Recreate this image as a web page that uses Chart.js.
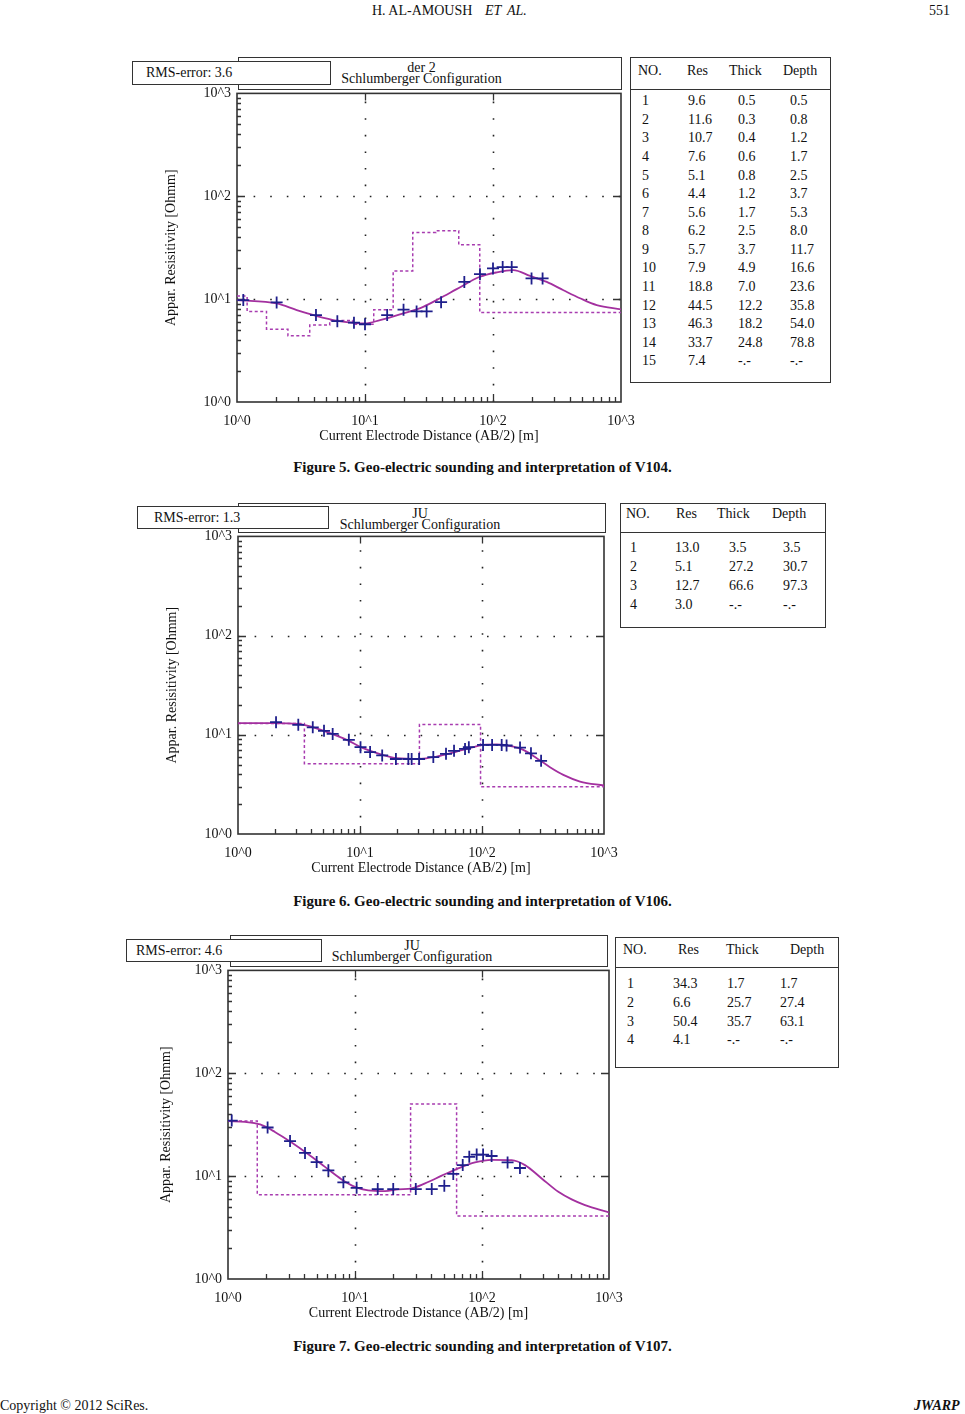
<!DOCTYPE html>
<html>
<head>
<meta charset="utf-8">
<script src="https://cdn.jsdelivr.net/npm/chart.js@4.4.0/dist/chart.umd.min.js"></script>
<style>
  body { margin: 0; background: #fff; }
  #page { position: relative; width: 965px; height: 1414px; overflow: hidden;
          font-family: "Liberation Serif", "Times New Roman", serif; color: #111; }
  canvas { position: absolute; }
</style>
</head>
<body>
<div id="page"></div>
<script>
// axis range and tick labels (log-log, AB/2 vs apparent resistivity)
const X_MIN = 1, X_MAX = 1000;
const decades = [1, 10, 100, 1000];
const decadeLabels = ['10^0', '10^1', '10^2', '10^3'];

// Figure 5 - V104
const v104Rms = '3.6';
const v104Res = [9.6, 11.6, 10.7, 7.6, 5.1, 4.4, 5.6, 6.2, 5.7, 7.9, 18.8, 44.5, 46.3, 33.7, 7.4];
const v104Thick = [0.5, 0.3, 0.4, 0.6, 0.8, 1.2, 1.7, 2.5, 3.7, 4.9, 7.0, 12.2, 18.2, 24.8];
const v104Depth = [0.5, 0.8, 1.2, 1.7, 2.5, 3.7, 5.3, 8.0, 11.7, 16.6, 23.6, 35.8, 54.0, 78.8];
const v104ObsAB = [1.12, 2.04, 4.14, 6.08, 8.2, 10, 14.9, 20, 25.3, 30.3, 39.3, 59.7, 79.1, 100, 119, 140, 200, 244];
const v104ObsRho = [9.8, 9.3, 7.0, 6.1, 5.9, 5.7, 7.0, 7.9, 7.6, 7.6, 9.35, 14.7, 17.5, 19.9, 20.5, 20.5, 15.9, 15.9];
const v104CalcAB = [1, 2.04, 2.93, 4.14, 6.08, 8.2, 10, 13.1, 19.9, 28.5, 38.5, 52, 79, 107, 144, 195, 263, 355, 478, 646, 1000];
const v104CalcRho = [9.78, 9.08, 7.82, 6.89, 6.16, 5.89, 5.81, 6.25, 7.26, 8.42, 10.2, 12.5, 16.5, 18.2, 19.1, 16.8, 14.7, 12.2, 10.2, 8.74, 7.94];

// Figure 6 - V106
const v106Rms = '1.3';
const v106Res = [13.0, 5.1, 12.7, 3.0];
const v106Thick = [3.5, 27.2, 66.6];
const v106Depth = [3.5, 30.7, 97.3];
const v106ObsAB = [2.05, 3.12, 4.1, 5.07, 5.97, 8.1, 10.1, 12.1, 15.2, 19.7, 24.9, 26.5, 30.5, 39.9, 50.7, 59, 72.6, 78, 102, 121, 145, 159, 205, 252, 305];
const v106ObsRho = [13.4, 12.6, 11.9, 10.97, 10.2, 8.9, 7.5, 6.7, 6.2, 5.7, 5.7, 5.7, 5.7, 5.96, 6.43, 6.9, 7.2, 7.5, 7.9, 7.9, 7.9, 7.8, 7.44, 6.5, 5.46];
const v106CalcAB = [1, 1.95, 3.12, 4.14, 5.68, 7.78, 10.6, 14.6, 20, 31, 42.5, 62, 85, 102, 132, 181, 218, 281, 361, 464, 636, 1000];
const v106CalcRho = [13.1, 13.1, 12.9, 11.9, 10.4, 8.9, 7.33, 6.38, 5.81, 5.72, 6.04, 6.78, 7.5, 7.9, 7.98, 7.6, 7.05, 5.81, 4.71, 3.94, 3.38, 3.08];

// Figure 7 - V107
const v107Rms = '4.6';
const v107Res = [34.3, 6.6, 50.4, 4.1];
const v107Thick = [1.7, 25.7, 35.7];
const v107Depth = [1.7, 27.4, 63.1];
const v107ObsAB = [1.07, 2.05, 3.08, 4.04, 4.99, 6.17, 8.1, 10.3, 15.1, 20, 30.1, 40.2, 50.5, 59.4, 70.5, 79.4, 90.8, 102, 119, 159, 199];
const v107ObsRho = [34.7, 29.7, 21.9, 16.8, 13.7, 11.4, 8.7, 7.7, 7.48, 7.48, 7.48, 7.48, 8.05, 10.5, 12.8, 15.4, 16.2, 16.2, 15.7, 13.6, 12.0];
const v107CalcAB = [1, 1.36, 1.79, 2.34, 3.17, 4.29, 5.8, 7.85, 10, 12.7, 17.2, 21.9, 27.9, 35.6, 48.2, 65, 88, 119, 171, 218, 295, 399, 508, 647, 1000];
const v107CalcRho = [34.2, 33.7, 31.8, 26.9, 21.2, 16.3, 12.3, 9.29, 7.87, 7.26, 7.15, 7.43, 7.6, 8.5, 10.1, 11.9, 13.6, 14.4, 14.3, 12.8, 9.5, 7.04, 5.94, 5.23, 4.44];

const page = document.getElementById('page');
const PAD_T = 14, PAD_R = 26, Y_AXIS_W = 80, X_AXIS_H = 50;

function el(css, text) {
    const d = document.createElement('div');
    d.style.cssText = 'position:absolute;white-space:nowrap;' + css;
    if (text != null) d.textContent = text;
    page.appendChild(d);
    return d;
}

// text centred vertically on cy
function txt(x, cy, text, size, extra) {
    return el(`left:${x}px;top:${cy - size * 0.62}px;font-size:${size}px;line-height:${size * 1.2}px;` + (extra || ''), text);
}

function box(l, t, w, h, z) {
    return el(`left:${l}px;top:${t}px;width:${w}px;height:${h}px;border:1.5px solid #333;box-sizing:border-box;background:#fff;z-index:${z || 1};`);
}

// layer table (NO. Res Thick Depth)
function layerTable(g, res, thick, depth) {
    box(g.left, g.top, g.width, g.height);
    el(`left:${g.left}px;top:${g.lineY}px;width:${g.width}px;height:0;border-top:1.5px solid #333;z-index:2;`);
    ['NO.', 'Res', 'Thick', 'Depth'].forEach((h, i) => txt(g.left + g.head[i], g.headY, h, 14, 'z-index:2;'));
    res.forEach((r, i) => {
        const cy = g.rowY + i * g.rowStep;
        const cells = [String(i + 1), r.toFixed(1),
                       i < thick.length ? thick[i].toFixed(1) : '-.-',
                       i < depth.length ? depth[i].toFixed(1) : '-.-'];
        cells.forEach((c, k) => txt(g.left + g.cell[k], cy, c, 14, 'z-index:2;'));
    });
}

// title + RMS boxes above each plot
function headerBoxes(g, topLine, rms) {
    box(g.titleL, g.titleT, g.titleW, g.titleH, 1);
    el(`left:${g.titleL}px;top:${g.titleT + 5}px;width:${g.textW}px;text-align:center;font-size:14px;line-height:11px;z-index:2;`,
       null).innerHTML = topLine + '<br>Schlumberger Configuration';
    box(g.rmsL, g.rmsT, g.rmsW, g.rmsH, 3);
    txt(g.rmsL + g.rmsPad, g.rmsT + g.rmsH / 2 + 1, 'RMS-error: ' + rms, 14, 'z-index:4;');
}

// interpreted layer model as a step line: each layer from its top to its bottom
function modelSteps(res, depth) {
    const pts = [];
    for (let i = 0; i < res.length; i++) {
        const top = i === 0 ? X_MIN : Math.max(depth[i - 1], X_MIN);
        const bottom = i < depth.length ? depth[i] : X_MAX;
        if (bottom <= X_MIN) continue;
        pts.push({ x: top, y: res[i] });
    }
    pts.push({ x: X_MAX, y: res[res.length - 1] });
    return pts;
}

function zip(xs, ys) {
    return xs.map((x, i) => ({ x: x, y: ys[i] }));
}

// frame, dotted decade grid and inward tick marks
const framePlugin = {
    id: 'frame',
    beforeDatasetsDraw(chart) {
        const { ctx, chartArea: a, scales: { x, y } } = chart;
        ctx.save();
        ctx.strokeStyle = '#222';
        ctx.lineWidth = 1.6;
        ctx.setLineDash([1.6, 15]);
        [10, 100].forEach(v => {
            const px = Math.round(x.getPixelForValue(v)) + 0.5;
            ctx.beginPath(); ctx.moveTo(px, a.bottom); ctx.lineTo(px, a.top); ctx.stroke();
            const py = Math.round(y.getPixelForValue(v)) + 0.5;
            ctx.beginPath(); ctx.moveTo(a.left, py); ctx.lineTo(a.right, py); ctx.stroke();
        });
        ctx.setLineDash([]);
        ctx.lineWidth = 1.3;
        ctx.strokeStyle = '#333';
        ctx.beginPath();
        [1, 10, 100].forEach(d => {
            for (let k = 1; k <= 9; k++) {
                const v = d * k;
                if (v <= X_MIN) continue;
                const major = k === 1;
                const px = Math.round(x.getPixelForValue(v)) + 0.5;
                ctx.moveTo(px, a.bottom); ctx.lineTo(px, a.bottom - (major ? 8 : 5));
                if (major) { ctx.moveTo(px, a.top); ctx.lineTo(px, a.top + 7); }
                const py = Math.round(y.getPixelForValue(v)) + 0.5;
                ctx.moveTo(a.left, py); ctx.lineTo(a.left + (major ? 8 : 4), py);
                if (major) { ctx.moveTo(a.right, py); ctx.lineTo(a.right - 8, py); }
            }
        });
        ctx.stroke();
        ctx.lineWidth = 1.6;
        ctx.strokeRect(a.left, a.top, a.right - a.left, a.bottom - a.top);
        ctx.restore();
    }
};

function makeChart(g, obsX, obsY, calcX, calcY, res, depth) {
    const canvas = document.createElement('canvas');
    const w = g.R - g.L + Y_AXIS_W + PAD_R, h = g.B - g.T + PAD_T + X_AXIS_H;
    canvas.width = w; canvas.height = h;
    canvas.style.cssText = `left:${g.L - Y_AXIS_W}px;top:${g.T - PAD_T}px;width:${w}px;height:${h}px;z-index:5;`;
    page.appendChild(canvas);

    const tickFont = { family: 'Liberation Serif', size: 14 };
    const setDecades = s => { s.ticks = decades.map(v => ({ value: v })); };
    const decadeLabel = v => decadeLabels[decades.indexOf(v)] || '';

    new Chart(canvas.getContext('2d'), {
        type: 'scatter',
        data: {
            datasets: [
                {
                    data: zip(obsX, obsY),
                    pointStyle: 'cross', pointRadius: 6, pointBorderWidth: 1.8,
                    borderColor: '#1f1f8c', showLine: false
                },
                {
                    data: zip(calcX, calcY),
                    showLine: true, pointRadius: 0, borderColor: '#a3309f', borderWidth: 1.8,
                    cubicInterpolationMode: 'monotone'
                },
                {
                    // horizontal at each layer's value, vertical at the next layer top
                    data: modelSteps(res, depth),
                    showLine: true, pointRadius: 0, stepped: 'before',
                    borderColor: '#a83cb0', borderWidth: 1.5, borderDash: [3, 2.5]
                }
            ]
        },
        options: {
            responsive: false,
            animation: false,
            layout: { padding: { top: PAD_T, right: PAD_R, left: 0, bottom: 0 } },
            plugins: { legend: { display: false }, tooltip: { enabled: false } },
            scales: {
                x: {
                    type: 'logarithmic', min: X_MIN, max: X_MAX,
                    afterBuildTicks: setDecades,
                    afterFit: s => { s.height = X_AXIS_H; },
                    grid: { display: false, drawTicks: false }, border: { display: false },
                    ticks: { callback: decadeLabel, font: tickFont, color: '#111', padding: 11,
                             autoSkip: false, maxRotation: 0 },
                    title: { display: true, text: 'Current Electrode Distance (AB/2) [m]',
                             font: tickFont, color: '#111', padding: { top: 0, bottom: 7 } }
                },
                y: {
                    type: 'logarithmic', min: X_MIN, max: X_MAX,
                    afterBuildTicks: setDecades,
                    afterFit: s => { s.width = Y_AXIS_W; },
                    grid: { display: false, drawTicks: false }, border: { display: false },
                    ticks: { callback: decadeLabel, font: tickFont, color: '#111', padding: 6, autoSkip: false },
                    title: { display: true, text: 'Appar. Resisitivity [Ohmm]',
                             font: tickFont, color: '#111', padding: { top: g.yTitlePad, bottom: 0 } }
                }
            }
        },
        plugins: [framePlugin]
    });
}

// page header
txt(372, 12, 'H. AL-AMOUSH', 14);
txt(485, 12, 'ET', 14, 'font-style:italic;');
txt(507, 12, 'AL.', 14, 'font-style:italic;');
txt(929, 12, '551', 14);

// Figure 5
headerBoxes({ titleL: 238, titleT: 57, titleW: 384, titleH: 33, textW: 367,
              rmsL: 132, rmsT: 61, rmsW: 199, rmsH: 24, rmsPad: 14 }, 'der 2', v104Rms);
makeChart({ L: 237, R: 621, T: 93, B: 402, yTitlePad: 6 },
          v104ObsAB, v104ObsRho, v104CalcAB, v104CalcRho, v104Res, v104Depth);
layerTable({ left: 630, top: 57, width: 201, height: 326, lineY: 89, headY: 72,
             head: [8, 57, 99, 153], cell: [12, 58, 108, 160], rowY: 102, rowStep: 18.57 },
           v104Res, v104Thick, v104Depth);
txt(0, 467, 'Figure 5. Geo-electric sounding and interpretation of V104.', 15,
    'width:965px;text-align:center;font-weight:bold;');

// Figure 6
headerBoxes({ titleL: 238, titleT: 503, titleW: 368, titleH: 30, textW: 364,
              rmsL: 137, rmsT: 506, rmsW: 192, rmsH: 23, rmsPad: 17 }, 'JU', v106Rms);
makeChart({ L: 238, R: 604, T: 536, B: 834, yTitlePad: 6 },
          v106ObsAB, v106ObsRho, v106CalcAB, v106CalcRho, v106Res, v106Depth);
layerTable({ left: 620, top: 503, width: 206, height: 125, lineY: 532, headY: 515,
             head: [6, 56, 97, 152], cell: [10, 55, 109, 163], rowY: 549, rowStep: 18.8 },
           v106Res, v106Thick, v106Depth);
txt(0, 901, 'Figure 6. Geo-electric sounding and interpretation of V106.', 15,
    'width:965px;text-align:center;font-weight:bold;');

// Figure 7
headerBoxes({ titleL: 230, titleT: 935, titleW: 378, titleH: 32, textW: 364,
              rmsL: 126, rmsT: 939, rmsW: 196, rmsH: 23, rmsPad: 10 }, 'JU', v107Rms);
makeChart({ L: 228, R: 609, T: 970, B: 1279, yTitlePad: 10 },
          v107ObsAB, v107ObsRho, v107CalcAB, v107CalcRho, v107Res, v107Depth);
layerTable({ left: 615, top: 937, width: 224, height: 131, lineY: 967, headY: 951,
             head: [8, 63, 111, 175], cell: [12, 58, 112, 165], rowY: 985, rowStep: 18.6 },
           v107Res, v107Thick, v107Depth);
txt(0, 1346, 'Figure 7. Geo-electric sounding and interpretation of V107.', 15,
    'width:965px;text-align:center;font-weight:bold;');

// page footer
txt(0, 1407, 'Copyright \u00A9 2012 SciRes.', 14);
txt(914, 1407, 'JWARP', 14, 'font-weight:bold;font-style:italic;');
</script>
</body>
</html>
